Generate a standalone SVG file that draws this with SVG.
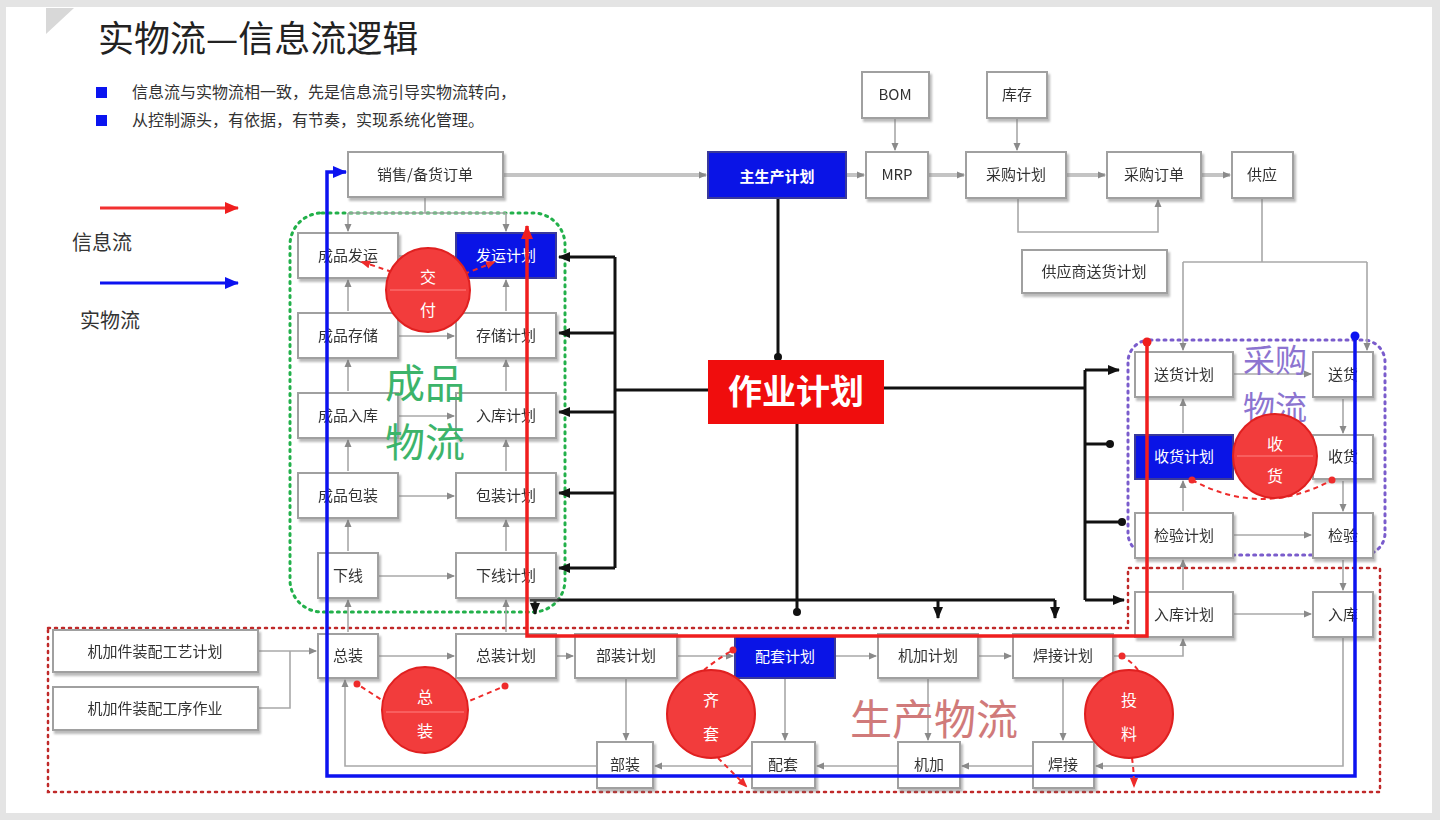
<svg xmlns="http://www.w3.org/2000/svg" width="1440" height="820" viewBox="0 0 1440 820">
<style>
text{font-family:"Noto Sans CJK SC","Noto Sans",sans-serif}
.bx{fill:#fff;stroke:#a0a0a0;stroke-width:2}
.bb{fill:#0a14e6;stroke:#3a3a9a;stroke-width:2}
.t{font-size:15px;fill:#333;text-anchor:middle}
.tw{font-size:15px;fill:#fff;text-anchor:middle}
.g1{fill:none;stroke:#c4c4c4;stroke-width:4}
.g2{fill:none;stroke:#a8a8a8;stroke-width:1.6}
.k{fill:none;stroke:#111;stroke-width:3}
.rd{fill:none;stroke:#ee2b2b;stroke-width:2;stroke-dasharray:5,4}
.cir{fill:#f23c3c;stroke:#e02020;stroke-width:2}
.ct{font-size:16px;fill:#fff;text-anchor:middle}
</style>
<defs>
<filter id="sh" x="-20%" y="-20%" width="140%" height="150%"><feDropShadow dx="2" dy="3" stdDeviation="1.2" flood-color="#777" flood-opacity="0.5"/></filter>
<marker id="ag" markerUnits="userSpaceOnUse" markerWidth="8" markerHeight="8" refX="7" refY="4" orient="auto"><path d="M0,0.5 L8,4 L0,7.5z" fill="#8a8a8a"/></marker>
<marker id="ak" markerUnits="userSpaceOnUse" markerWidth="12" markerHeight="12" refX="11" refY="6" orient="auto"><path d="M0,1 L12,6 L0,11z" fill="#111"/></marker>
<marker id="dk" markerUnits="userSpaceOnUse" markerWidth="10" markerHeight="10" refX="5" refY="5" orient="auto"><circle cx="5" cy="5" r="4" fill="#111"/></marker>
<marker id="ar" markerUnits="userSpaceOnUse" markerWidth="14" markerHeight="14" refX="13" refY="7" orient="auto"><path d="M0,1 L14,7 L0,13z" fill="#f01e1e"/></marker>
<marker id="ab" markerUnits="userSpaceOnUse" markerWidth="14" markerHeight="14" refX="13" refY="7" orient="auto"><path d="M0,1 L14,7 L0,13z" fill="#0c12f0"/></marker>
<marker id="dr" markerUnits="userSpaceOnUse" markerWidth="10" markerHeight="10" refX="5" refY="5"><circle cx="5" cy="5" r="4.5" fill="#f01e1e"/></marker>
<marker id="db" markerUnits="userSpaceOnUse" markerWidth="10" markerHeight="10" refX="5" refY="5"><circle cx="5" cy="5" r="4.5" fill="#0c12f0"/></marker>
<marker id="ars" markerUnits="userSpaceOnUse" markerWidth="10" markerHeight="10" refX="8" refY="5" orient="auto"><path d="M0,1 L10,5 L0,9z" fill="#ee2b2b"/></marker>
<marker id="drs" markerUnits="userSpaceOnUse" markerWidth="8" markerHeight="8" refX="4" refY="4"><circle cx="4" cy="4" r="3.5" fill="#ee2b2b"/></marker>
</defs>

<rect x="0" y="0" width="1440" height="820" fill="#e4e4e4"/>
<rect x="6" y="7" width="1426" height="806" fill="#fff"/>
<path d="M46,8 L74,8 L46,34z" fill="#d8d8d8"/>

<g id="title">
<text x="98" y="52" font-size="36" fill="#222">实物流—信息流逻辑</text>
<rect x="96" y="87" width="11" height="11" fill="#0a14f0"/>
<rect x="96" y="115" width="11" height="11" fill="#0a14f0"/>
<text x="132" y="98" font-size="16" fill="#333">信息流与实物流相一致，先是信息流引导实物流转向，</text>
<text x="132" y="126" font-size="16" fill="#333">从控制源头，有依据，有节奏，实现系统化管理。</text>
</g>

<g id="legend">
<line x1="100" y1="208" x2="238" y2="208" stroke="#f23030" stroke-width="3" marker-end="url(#ar)"/>
<text x="72" y="250" font-size="20" fill="#333">信息流</text>
<line x1="100" y1="283" x2="238" y2="283" stroke="#0c12f0" stroke-width="3" marker-end="url(#ab)"/>
<text x="80" y="328" font-size="20" fill="#333">实物流</text>
</g>

<g id="regions">
<rect x="290" y="213" width="275" height="399" rx="32" fill="none" stroke="#22b04a" stroke-width="3" stroke-dasharray="2,5" stroke-linecap="round"/>
<rect x="1128" y="340" width="257" height="215" rx="22" fill="none" stroke="#7a5ccc" stroke-width="3" stroke-dasharray="2,5" stroke-linecap="round"/>
<path d="M48,628 L1128,628 L1128,568 L1380,568 L1380,792 L48,792z" fill="none" stroke="#c02a2a" stroke-width="2.5" stroke-dasharray="2,5" stroke-linecap="round"/>
</g>

<g id="connectors">
<path class="g1" d="M503,175 H706" marker-end="url(#ag)"/>
<path class="g1" d="M846,175 H864" marker-end="url(#ag)"/>
<path class="g1" d="M928,175 H964" marker-end="url(#ag)"/>
<path class="g1" d="M1066,175 H1105" marker-end="url(#ag)"/>
<path class="g1" d="M1201,175 H1230" marker-end="url(#ag)"/>
<path class="g2" d="M895,118 V150" marker-end="url(#ag)"/>
<path class="g2" d="M1017,118 V150" marker-end="url(#ag)"/>
<path class="g2" d="M1018,198 V232 H1158 V200" marker-end="url(#ag)"/>
<path class="g2" d="M1262,198 V262"/>
<path class="g2" d="M1183,262 H1367"/>
<path class="g2" d="M1183,262 V350" marker-end="url(#ag)"/>
<path class="g2" d="M1367,262 V350" marker-end="url(#ag)"/>
<path class="g2" d="M425,197 V213"/>
<path class="g2" d="M348,213 H506"/>
<path class="g2" d="M348,213 V231" marker-end="url(#ag)"/>
<path class="g2" d="M506,213 V231" marker-end="url(#ag)"/>
<path class="g2" d="M348,311 V280" marker-end="url(#ag)"/>
<path class="g2" d="M348,391 V360" marker-end="url(#ag)"/>
<path class="g2" d="M348,471 V440" marker-end="url(#ag)"/>
<path class="g2" d="M348,551 V520" marker-end="url(#ag)"/>
<path class="g2" d="M506,311 V280" marker-end="url(#ag)"/>
<path class="g2" d="M506,391 V360" marker-end="url(#ag)"/>
<path class="g2" d="M506,471 V440" marker-end="url(#ag)"/>
<path class="g2" d="M506,551 V520" marker-end="url(#ag)"/>
<path class="g2" d="M398,256 H454" marker-end="url(#ag)"/>
<path class="g2" d="M398,336 H454" marker-end="url(#ag)"/>
<path class="g2" d="M398,416 H454" marker-end="url(#ag)"/>
<path class="g2" d="M398,496 H454" marker-end="url(#ag)"/>
<path class="g2" d="M378,576 H454" marker-end="url(#ag)"/>
<path class="g2" d="M348,632 V600" marker-end="url(#ag)"/>
<path class="g2" d="M506,632 V600" marker-end="url(#ag)"/>
<path class="g2" d="M1183,433 V399" marker-end="url(#ag)"/>
<path class="g2" d="M1183,511 V481" marker-end="url(#ag)"/>
<path class="g2" d="M1183,590 V560" marker-end="url(#ag)"/>
<path class="g2" d="M1343,399 V433" marker-end="url(#ag)"/>
<path class="g2" d="M1343,481 V511" marker-end="url(#ag)"/>
<path class="g2" d="M1343,560 V590" marker-end="url(#ag)"/>
<path class="g2" d="M1233,374 H1311" marker-end="url(#ag)"/>
<path class="g2" d="M1233,457 H1311" marker-end="url(#ag)"/>
<path class="g2" d="M1233,535 H1311" marker-end="url(#ag)"/>
<path class="g2" d="M1233,614 H1311" marker-end="url(#ag)"/>
<path class="g2" d="M258,651 H316" marker-end="url(#ag)"/>
<path class="g2" d="M258,708 H290 V651"/>
<path class="g2" d="M378,656 H454" marker-end="url(#ag)"/>
<path class="g2" d="M556,656 H573" marker-end="url(#ag)"/>
<path class="g2" d="M677,656 H733" marker-end="url(#ag)"/>
<path class="g2" d="M835,656 H876" marker-end="url(#ag)"/>
<path class="g2" d="M978,656 H1011" marker-end="url(#ag)"/>
<path class="g2" d="M1113,656 H1183 V639" marker-end="url(#ag)"/>
<path class="g2" d="M626,678 V740" marker-end="url(#ag)"/>
<path class="g2" d="M785,678 V740" marker-end="url(#ag)"/>
<path class="g2" d="M928,678 V740" marker-end="url(#ag)"/>
<path class="g2" d="M1063,678 V740" marker-end="url(#ag)"/>
<path class="g2" d="M1343,637 V766 H1096" marker-end="url(#ag)"/>
<path class="g2" d="M1033,766 H962" marker-end="url(#ag)"/>
<path class="g2" d="M898,766 H817" marker-end="url(#ag)"/>
<path class="g2" d="M752,766 H655" marker-end="url(#ag)"/>
<path class="g2" d="M597,766 H345 V680" marker-end="url(#ag)"/>

<path class="k" d="M778,198 V357" marker-end="url(#dk)"/>
<path class="k" d="M708,390 H615"/>
<path class="k" d="M615,257 V568"/>
<path class="k" d="M615,257 H559" marker-end="url(#ak)"/>
<path class="k" d="M615,333 H559" marker-end="url(#ak)"/>
<path class="k" d="M615,412 H559" marker-end="url(#ak)"/>
<path class="k" d="M615,493 H559" marker-end="url(#ak)"/>
<path class="k" d="M615,568 H559" marker-end="url(#ak)"/>
<path class="k" d="M884,388 H1085"/>
<path class="k" d="M1085,370 V600"/>
<path class="k" d="M1085,370 H1119" marker-end="url(#ak)"/>
<path class="k" d="M1085,444 H1110" marker-end="url(#dk)"/>
<path class="k" d="M1085,522 H1122" marker-end="url(#dk)"/>
<path class="k" d="M1085,600 H1124" marker-end="url(#ak)"/>
<path class="k" d="M797,424 V600"/>
<path class="k" d="M530,600 H1055"/>
<path class="k" d="M535,600 V614" marker-end="url(#ak)"/>
<path class="k" d="M797,600 V612" marker-end="url(#dk)"/>
<path class="k" d="M938,600 V618" marker-end="url(#ak)"/>
<path class="k" d="M1055,600 V618" marker-end="url(#ak)"/>
</g>

<g id="n_order" filter="url(#sh)"><rect class="bx" x="348" y="152" width="155" height="45"/><text class="t" x="425" y="180">销售/备货订单</text></g>
<g id="n_mps"><rect class="bb" x="708" y="152" width="138" height="46"/><text class="tw" x="777" y="182" font-size="17" font-weight="bold">主生产计划</text></g>
<g id="n_mrp" filter="url(#sh)"><rect class="bx" x="866" y="152" width="62" height="46"/><text class="t" x="897" y="180">MRP</text></g>
<g id="n_bom" filter="url(#sh)"><rect class="bx" x="862" y="72" width="67" height="46"/><text class="t" x="895" y="100">BOM</text></g>
<g id="n_stock" filter="url(#sh)"><rect class="bx" x="987" y="72" width="60" height="46"/><text class="t" x="1017" y="100">库存</text></g>
<g id="n_pp" filter="url(#sh)"><rect class="bx" x="966" y="152" width="100" height="46"/><text class="t" x="1016" y="180">采购计划</text></g>
<g id="n_po" filter="url(#sh)"><rect class="bx" x="1107" y="152" width="94" height="46"/><text class="t" x="1154" y="180">采购订单</text></g>
<g id="n_sup" filter="url(#sh)"><rect class="bx" x="1232" y="152" width="61" height="46"/><text class="t" x="1262" y="180">供应</text></g>
<g id="n_sdp" filter="url(#sh)"><rect class="bx" x="1022" y="250" width="145" height="43"/><text class="t" x="1094" y="277">供应商送货计划</text></g>
<g id="n_op"><rect x="708" y="360" width="176" height="64" fill="#f00d0d"/><text x="796" y="404" font-size="34" font-weight="bold" fill="#fff" text-anchor="middle">作业计划</text></g>

<g id="n_fg_ship" filter="url(#sh)"><rect class="bx" x="298" y="233" width="100" height="45"/><text class="t" x="348" y="261">成品发运</text></g>
<g id="n_fg_store" filter="url(#sh)"><rect class="bx" x="298" y="313" width="100" height="45"/><text class="t" x="348" y="341">成品存储</text></g>
<g id="n_fg_in" filter="url(#sh)"><rect class="bx" x="298" y="393" width="100" height="45"/><text class="t" x="348" y="421">成品入库</text></g>
<g id="n_fg_pack" filter="url(#sh)"><rect class="bx" x="298" y="473" width="100" height="45"/><text class="t" x="348" y="501">成品包装</text></g>
<g id="n_off" filter="url(#sh)"><rect class="bx" x="318" y="553" width="60" height="45"/><text class="t" x="348" y="581">下线</text></g>
<g id="n_ship_p"><rect class="bb" x="456" y="233" width="100" height="45"/><text class="tw" x="506" y="261">发运计划</text></g>
<g id="n_store_p" filter="url(#sh)"><rect class="bx" x="456" y="313" width="100" height="45"/><text class="t" x="506" y="341">存储计划</text></g>
<g id="n_in_p" filter="url(#sh)"><rect class="bx" x="456" y="393" width="100" height="45"/><text class="t" x="506" y="421">入库计划</text></g>
<g id="n_pack_p" filter="url(#sh)"><rect class="bx" x="456" y="473" width="100" height="45"/><text class="t" x="506" y="501">包装计划</text></g>
<g id="n_off_p" filter="url(#sh)"><rect class="bx" x="456" y="553" width="100" height="45"/><text class="t" x="506" y="581">下线计划</text></g>

<g id="n_del_p" filter="url(#sh)"><rect class="bx" x="1135" y="352" width="98" height="45"/><text class="t" x="1184" y="380">送货计划</text></g>
<g id="n_rec_p"><rect class="bb" x="1135" y="435" width="98" height="44"/><text class="tw" x="1184" y="462">收货计划</text></g>
<g id="n_ins_p" filter="url(#sh)"><rect class="bx" x="1135" y="513" width="98" height="45"/><text class="t" x="1184" y="541">检验计划</text></g>
<g id="n_win_p" filter="url(#sh)"><rect class="bx" x="1135" y="592" width="98" height="45"/><text class="t" x="1184" y="620">入库计划</text></g>
<g id="n_del" filter="url(#sh)"><rect class="bx" x="1313" y="352" width="60" height="45"/><text class="t" x="1343" y="380">送货</text></g>
<g id="n_rec" filter="url(#sh)"><rect class="bx" x="1313" y="435" width="60" height="44"/><text class="t" x="1343" y="462">收货</text></g>
<g id="n_ins" filter="url(#sh)"><rect class="bx" x="1313" y="513" width="60" height="45"/><text class="t" x="1343" y="541">检验</text></g>
<g id="n_win" filter="url(#sh)"><rect class="bx" x="1313" y="592" width="60" height="45"/><text class="t" x="1343" y="620">入库</text></g>

<g id="n_proc_plan" filter="url(#sh)"><rect class="bx" x="53" y="630" width="205" height="42" stroke="#777"/><text class="t" x="155" y="657">机加件装配工艺计划</text></g>
<g id="n_proc_job" filter="url(#sh)"><rect class="bx" x="53" y="687" width="205" height="43" stroke="#777"/><text class="t" x="155" y="714">机加件装配工序作业</text></g>
<g id="n_asm" filter="url(#sh)"><rect class="bx" x="318" y="634" width="60" height="44"/><text class="t" x="348" y="661">总装</text></g>
<g id="n_asm_p" filter="url(#sh)"><rect class="bx" x="456" y="634" width="100" height="44"/><text class="t" x="506" y="661">总装计划</text></g>
<g id="n_sub_p" filter="url(#sh)"><rect class="bx" x="575" y="634" width="102" height="44"/><text class="t" x="626" y="661">部装计划</text></g>
<g id="n_kit_p"><rect class="bb" x="735" y="636" width="100" height="42"/><text class="tw" x="785" y="662">配套计划</text></g>
<g id="n_mach_p" filter="url(#sh)"><rect class="bx" x="878" y="634" width="100" height="44"/><text class="t" x="928" y="661">机加计划</text></g>
<g id="n_weld_p" filter="url(#sh)"><rect class="bx" x="1013" y="634" width="100" height="44"/><text class="t" x="1063" y="661">焊接计划</text></g>
<g id="n_sub" filter="url(#sh)"><rect class="bx" x="597" y="742" width="56" height="46"/><text class="t" x="625" y="770">部装</text></g>
<g id="n_kit" filter="url(#sh)"><rect class="bx" x="752" y="742" width="63" height="46"/><text class="t" x="783" y="770">配套</text></g>
<g id="n_mach" filter="url(#sh)"><rect class="bx" x="898" y="742" width="62" height="46"/><text class="t" x="929" y="770">机加</text></g>
<g id="n_weld" filter="url(#sh)"><rect class="bx" x="1033" y="742" width="61" height="46"/><text class="t" x="1063" y="770">焊接</text></g>

<g id="flows">
<path d="M1147,342 V636 H527 V226" fill="none" stroke="#f01e1e" stroke-width="3.5" marker-start="url(#dr)" marker-end="url(#ar)"/>
<path d="M1355,336 V776 H327 V172 H346" fill="none" stroke="#0c12f0" stroke-width="3.5" marker-start="url(#db)" marker-end="url(#ab)"/>
</g>

<g id="area-labels">
<text x="425" y="398" font-size="40" fill="#3cb46a" text-anchor="middle">成品</text>
<text x="425" y="457" font-size="40" fill="#3cb46a" text-anchor="middle">物流</text>
<text x="1275" y="372" font-size="32" fill="#8c74d0" text-anchor="middle">采购</text>
<text x="1275" y="419" font-size="32" fill="#8c74d0" text-anchor="middle">物流</text>
<text x="934" y="735" font-size="42" fill="#d07a7a" text-anchor="middle">生产物流</text>
</g>

<g id="c_deliver">
<path class="rd" d="M392,272 Q375,266 362,262" marker-end="url(#ars)"/>
<path class="rd" d="M464,274 Q480,268 494,262" marker-end="url(#ars)"/>
<circle class="cir" cx="428" cy="290" r="42"/>
<line x1="390" y1="290" x2="466" y2="290" stroke="#ff8080" stroke-width="1"/>
<text class="ct" x="428" y="283">交</text><text class="ct" x="428" y="316">付</text>
</g>
<g id="c_receive">
<path class="rd" d="M1192,480 Q1262,518 1332,480" marker-start="url(#drs)" marker-end="url(#drs)"/>
<circle class="cir" cx="1275" cy="456" r="42"/>
<line x1="1237" y1="456" x2="1313" y2="456" stroke="#ff8080" stroke-width="1"/>
<text class="ct" x="1275" y="450">收</text><text class="ct" x="1275" y="482">货</text>
</g>
<g id="c_assemble">
<path class="rd" d="M388,704 L357,684" marker-end="url(#drs)"/>
<path class="rd" d="M462,704 L505,686" marker-end="url(#drs)"/>
<circle class="cir" cx="425" cy="710" r="43"/>
<line x1="386" y1="712" x2="464" y2="712" stroke="#ff8080" stroke-width="1"/>
<text class="ct" x="425" y="703">总</text><text class="ct" x="425" y="737">装</text>
</g>
<g id="c_kit">
<path class="rd" d="M704,670 Q716,660 733,650" marker-end="url(#drs)"/>
<path class="rd" d="M718,758 Q732,772 746,786" marker-end="url(#ars)"/>
<circle class="cir" cx="711" cy="714" r="44"/>
<text class="ct" x="711" y="706">齐</text><text class="ct" x="711" y="740">套</text>
</g>
<g id="c_feed">
<path class="rd" d="M1138,670 Q1132,662 1122,656" marker-end="url(#drs)"/>
<path class="rd" d="M1132,758 Q1134,772 1134,786" marker-end="url(#ars)"/>
<circle class="cir" cx="1129" cy="714" r="44"/>
<text class="ct" x="1129" y="706">投</text><text class="ct" x="1129" y="740">料</text>
</g>
</svg>
